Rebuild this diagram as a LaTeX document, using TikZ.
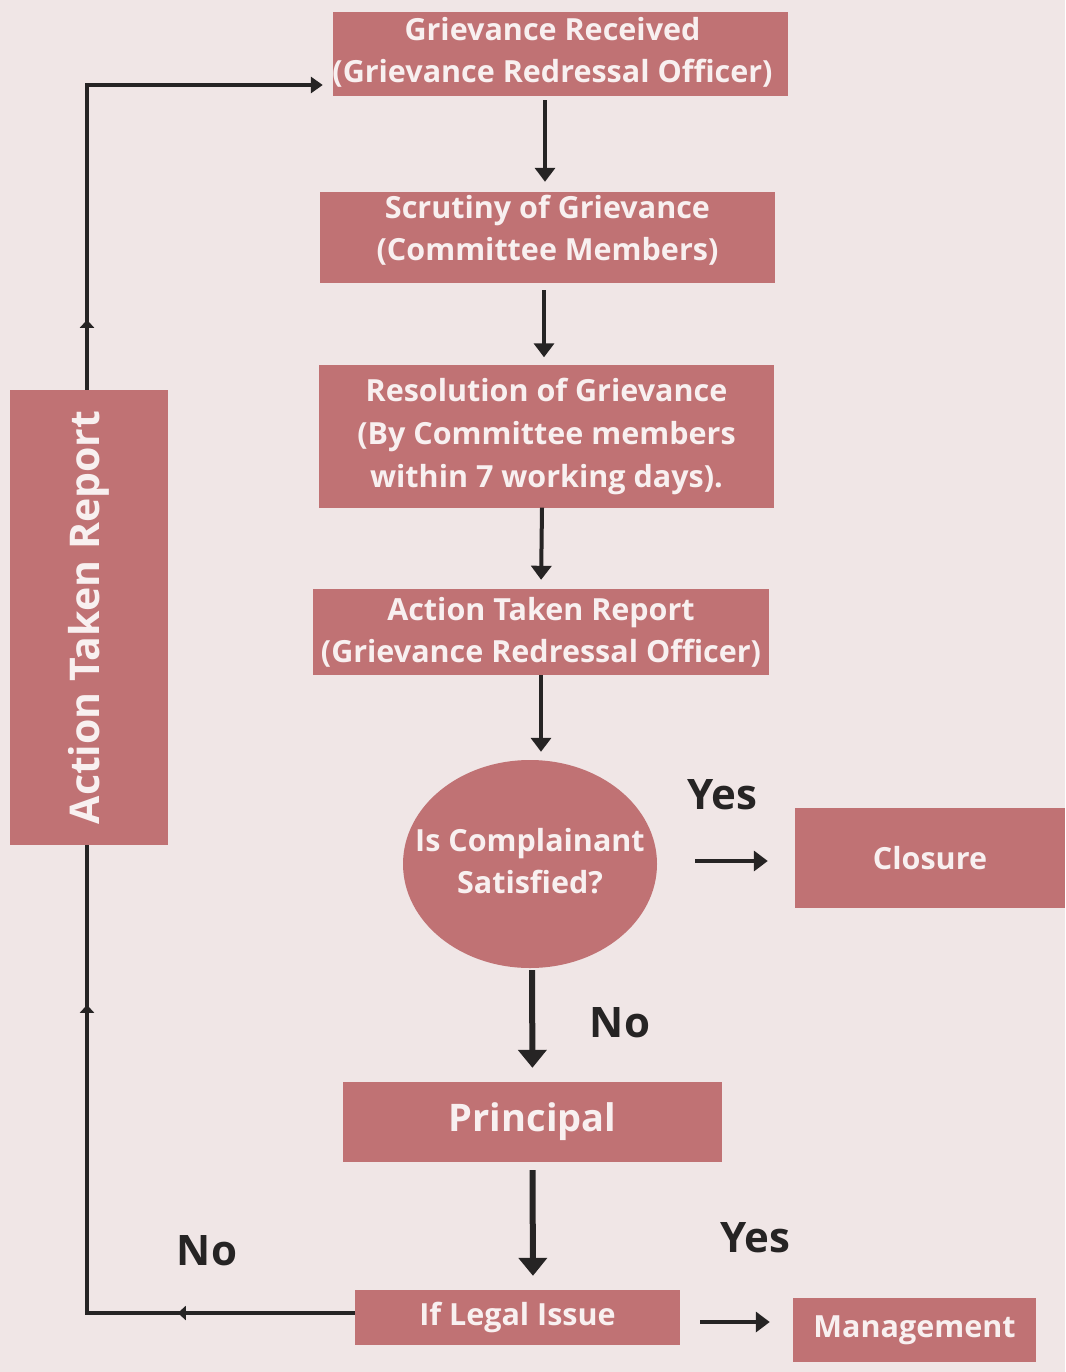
\documentclass[tikz,border=0pt]{standalone}
\usepackage{fontspec}
\setmainfont{Open Sans}
\usetikzlibrary{arrows.meta,decorations.markings,shapes.geometric}
\definecolor{bg}{RGB}{240,230,230}
\definecolor{rose}{RGB}{192,114,116}
\definecolor{txt}{RGB}{248,240,240}
\definecolor{ink}{RGB}{38,36,36}
\tikzset{
 box/.style={fill=rose, draw=none, text=txt, font=\bfseries\fontsize{30.5}{42}\selectfont, align=center, inner sep=0pt},
 boxtext/.style={text=txt, font=\bfseries\fontsize{30.5}{42}\selectfont, align=center, inner sep=0pt},
 flow/.style={draw=ink, line width=4pt, -{Triangle[length=14pt,width=20pt]}},
 bigflow/.style={draw=ink, line width=6pt, -{Triangle[length=18pt,width=28pt]}},
 lbl/.style={text=ink, font=\bfseries\fontsize{42}{46}\selectfont},
 fb/.style={draw=ink, line width=3.5pt, -{Triangle[length=12pt,width=16pt]},
   postaction={decorate},
   decoration={markings,
     mark=at position 177pt with {\arrow{Triangle[length=8pt,width=14pt]}},
     mark=at position 576pt with {\arrow{Triangle[length=8pt,width=14pt]}},
     mark=at position 1261pt with {\arrow{Triangle[length=8pt,width=14pt]}}}},
}
\begin{document}
\begin{tikzpicture}[x=1pt,y=-1pt]
\fill[bg] (0,0) rectangle (1065,1372);
\useasboundingbox (0,0) rectangle (1065,1372);

\node[box, minimum width=455pt, minimum height=84pt] (n1) at (560.5,54) {};
\node[boxtext] (n1t) at ([xshift=-8pt,yshift=2pt]n1.center) {Grievance Received\\(Grievance Redressal Officer)};
\node[box, minimum width=455pt, minimum height=91pt] (n2) at (547.5,237.5) {};
\node[boxtext] (n2t) at ([yshift=7pt]n2.center) {Scrutiny of Grievance\\(Committee Members)};
\node[box, minimum width=455pt, minimum height=143pt, font=\bfseries\fontsize{30.5}{43}\selectfont] (n3) at (546.5,436) {Resolution of Grievance\\(By Committee members\\within 7 working days).};
\node[box, minimum width=456pt, minimum height=86pt] (n4) at (541,632) {Action Taken Report\\(Grievance Redressal Officer)};
\node[box, ellipse, minimum width=254pt, minimum height=208pt] (dec) at (530,864) {};
\node[boxtext] (dect) at ([yshift=3pt]dec.center) {Is Complainant\\Satisfied?};
\node[box, minimum width=270pt, minimum height=100pt] (n5) at (930,858) {Closure};
\node[box, minimum width=379pt, minimum height=80pt, font=\bfseries\fontsize{38}{44}\selectfont] (n6) at (532.5,1122) {Principal};
\node[box, minimum width=325pt, minimum height=55pt] (n7) at (517.5,1317.5) {If Legal Issue};
\node[box, minimum width=243pt, minimum height=64pt] (n8) at (914.5,1330) {Management};

\coordinate (fbx) at (87,700);
\draw[fb, shorten >=10pt] ([yshift=4.5pt]n7.west) -| (fbx) |- ([yshift=-31pt]n1.west);

\node[box, rotate=90, minimum width=455pt, minimum height=158pt, font=\bfseries\fontsize{41}{44}\selectfont] (atr) at (89,617.5) {Action Taken Report};

\draw[flow, shorten <=4pt, shorten >=10pt] ([xshift=-15.5pt]n1.south) -- ([xshift=-2.5pt]n2.north);
\draw[flow, shorten <=7pt, shorten >=7pt] ([xshift=-3.5pt]n2.south) -- ([xshift=-2.5pt]n3.north);
\draw[flow, shorten >=9pt] ([xshift=-4.5pt]n3.south) -- (n4.north);
\draw[flow, shorten >=8pt] (n4.south) -- ([xshift=11pt]dec.north);
\draw[flow, shorten <=38pt, shorten >=27pt] ([yshift=3pt]dec.east) -- ([yshift=-3pt]n5.west);
\draw[bigflow, shorten <=2pt, shorten >=14pt] ([xshift=2pt]dec.south) -- (n6.north);
\draw[bigflow, shorten <=8pt, shorten >=14pt] (n6.south) -- ([xshift=15.5pt]n7.north);
\draw[flow, shorten <=20pt, shorten >=23pt] ([yshift=-4.5pt]n7.east) -- ([yshift=8pt]n8.west);

\node[lbl] (y1) at (722,795) {Yes};
\node[lbl] (no1) at (620,1023) {No};
\node[lbl] (y2) at (755,1238) {Yes};
\node[lbl] (no2) at (207,1251) {No};
\end{tikzpicture}
\end{document}
